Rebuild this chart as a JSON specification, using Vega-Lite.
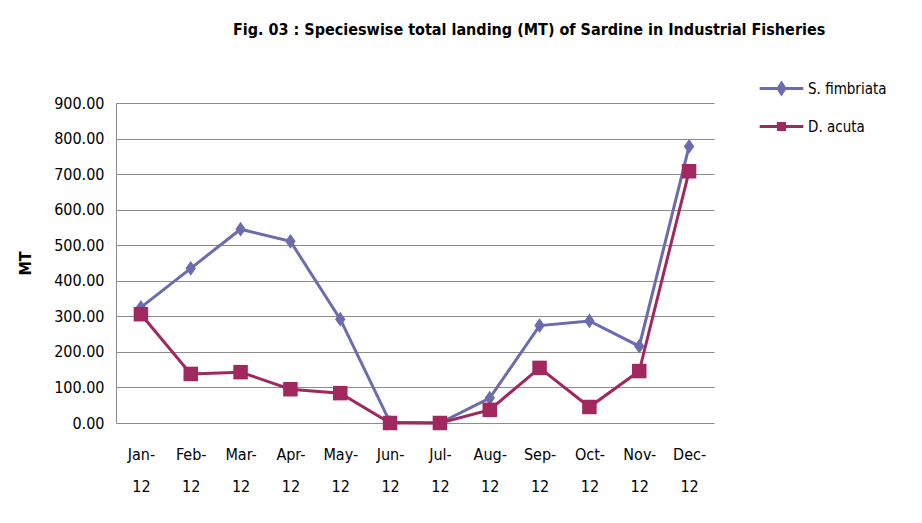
{
  "$schema": "https://vega.github.io/schema/vega-lite/v6.json",
  "width": 598,
  "height": 320,
  "autosize": "none",
  "padding": {"left": 116, "top": 103, "right": 208, "bottom": 100},
  "background": "white",
  "config": {
    "view": {"stroke": null},
    "font": "DejaVu Sans Condensed, Liberation Sans, sans-serif"
  },
  "title": {
    "text": "Fig. 03 : Specieswise total landing (MT) of Sardine in Industrial Fisheries",
    "anchor": "start",
    "frame": "group",
    "dx": 117,
    "offset": 30,
    "font": "DejaVu Sans Condensed, Liberation Sans, sans-serif",
    "fontSize": 16,
    "fontWeight": "bold",
    "color": "#000000"
  },
  "data": {
    "values": [
      {"month": "Jan-12", "species": "S. fimbriata", "value": 325},
      {"month": "Feb-12", "species": "S. fimbriata", "value": 435},
      {"month": "Mar-12", "species": "S. fimbriata", "value": 545},
      {"month": "Apr-12", "species": "S. fimbriata", "value": 511},
      {"month": "May-12", "species": "S. fimbriata", "value": 292},
      {"month": "Jun-12", "species": "S. fimbriata", "value": 2},
      {"month": "Jul-12", "species": "S. fimbriata", "value": 0},
      {"month": "Aug-12", "species": "S. fimbriata", "value": 70},
      {"month": "Sep-12", "species": "S. fimbriata", "value": 274},
      {"month": "Oct-12", "species": "S. fimbriata", "value": 287},
      {"month": "Nov-12", "species": "S. fimbriata", "value": 216},
      {"month": "Dec-12", "species": "S. fimbriata", "value": 778},
      {"month": "Jan-12", "species": "D. acuta", "value": 306},
      {"month": "Feb-12", "species": "D. acuta", "value": 138},
      {"month": "Mar-12", "species": "D. acuta", "value": 143},
      {"month": "Apr-12", "species": "D. acuta", "value": 95},
      {"month": "May-12", "species": "D. acuta", "value": 84},
      {"month": "Jun-12", "species": "D. acuta", "value": 0},
      {"month": "Jul-12", "species": "D. acuta", "value": 0},
      {"month": "Aug-12", "species": "D. acuta", "value": 37},
      {"month": "Sep-12", "species": "D. acuta", "value": 155},
      {"month": "Oct-12", "species": "D. acuta", "value": 45},
      {"month": "Nov-12", "species": "D. acuta", "value": 146},
      {"month": "Dec-12", "species": "D. acuta", "value": 708}
    ]
  },
  "encoding": {
    "x": {
      "field": "month",
      "type": "ordinal",
      "sort": null,
      "scale": {"type": "point", "padding": 0.5},
      "axis": {
        "title": null,
        "labelAngle": 0,
        "ticks": false,
        "domain": false,
        "labelFontSize": 16,
        "labelColor": "#000000",
        "labelPadding": 23,
        "labelLineHeight": 32,
        "labelExpr": "[split(datum.label, '-')[0] + '-', split(datum.label, '-')[1]]"
      }
    },
    "y": {
      "field": "value",
      "type": "quantitative",
      "scale": {"domain": [0, 900], "nice": false},
      "axis": {
        "title": "MT",
        "titleFontSize": 16,
        "titleFontWeight": "bold",
        "titleColor": "#000000",
        "titlePadding": 20,
        "values": [0, 100, 200, 300, 400, 500, 600, 700, 800, 900],
        "format": ".2f",
        "labelFontSize": 16,
        "labelColor": "#000000",
        "labelPadding": 12,
        "ticks": false,
        "domain": true,
        "domainColor": "#8c8c8c",
        "grid": true,
        "gridColor": "#8c8c8c",
        "gridWidth": 1
      }
    },
    "color": {
      "field": "species",
      "type": "nominal",
      "sort": ["S. fimbriata", "D. acuta"],
      "scale": {"domain": ["S. fimbriata", "D. acuta"], "range": ["#6B6BAE", "#A0285F"]},
      "legend": {
        "title": null,
        "orient": "none",
        "legendX": 645,
        "legendY": -35,
        "padding": 0,
        "symbolSize": 1444,
        "symbolStrokeWidth": 3,
        "rowPadding": 6,
        "labelOffset": 6,
        "labelFontSize": 15,
        "labelColor": "#000000",
        "encode": {
          "symbols": {
            "update": {
              "shape": {"signal": "datum.value === 'S. fimbriata' ? 'M-1.15,0H1.15M0,-0.28L0.18,0L0,0.28L-0.18,0Z' : 'M-1.15,0H1.15M-0.16,-0.16H0.16V0.16H-0.16Z'"},
              "fill": {"signal": "datum.value === 'S. fimbriata' ? '#6B6BAE' : '#A0285F'"},
              "stroke": {"signal": "datum.value === 'S. fimbriata' ? '#6B6BAE' : '#A0285F'"},
              "strokeWidth": {"value": 3},
              "opacity": {"value": 1},
              "fillOpacity": {"value": 1}
            }
          }
        }
      }
    }
  },
  "layer": [
    {"mark": {"type": "line", "strokeWidth": 3}},
    {
      "transform": [{"filter": "datum.species === 'S. fimbriata'"}],
      "mark": {"type": "point", "filled": true, "opacity": 1, "shape": "M0,-1.2L0.85,0L0,1.2L-0.85,0Z", "size": 150}
    },
    {
      "transform": [{"filter": "datum.species === 'D. acuta'"}],
      "mark": {"type": "point", "filled": true, "opacity": 1, "shape": "square", "size": 210}
    }
  ]
}
